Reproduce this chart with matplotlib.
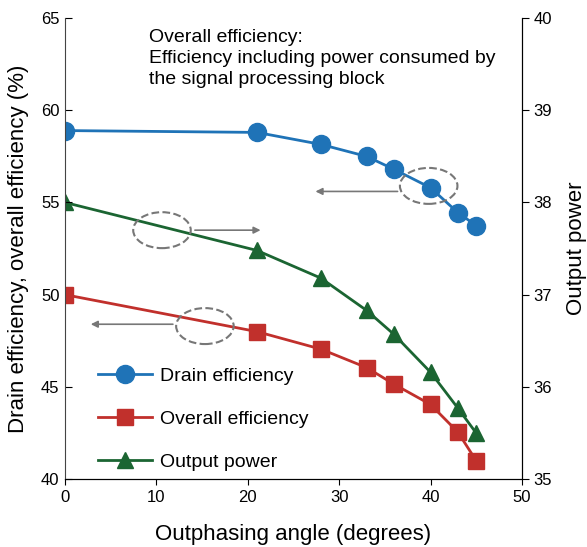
import matplotlib
matplotlib.use('Agg')
import matplotlib.pyplot as plt
from matplotlib.patches import Ellipse

plt.rcParams['font.family'] = ['Liberation Sans', 'DejaVu Sans']

# data
angle = [0, 21, 28, 33, 36, 40, 43, 45]
drain_eff = [58.9, 58.8, 58.15, 57.5, 56.8, 55.8, 54.45, 53.75]
overall_eff = [50.0, 48.0, 47.05, 46.05, 45.15, 44.05, 42.55, 41.0]
output_power = [38.0, 37.48, 37.18, 36.83, 36.57, 36.16, 35.77, 35.5]

blue = '#1f73b7'
red = '#c1302c'
green = '#1b6532'
grey = '#777777'

fig = plt.figure(figsize=(5.87, 5.47), dpi=100)
ax = fig.add_axes([0.111, 0.124, 0.778, 0.843])
ax2 = ax.twinx()

l1, = ax.plot(angle, drain_eff, '-o', color=blue, lw=2, ms=13, label='Drain efficiency')
l2, = ax.plot(angle, overall_eff, '-s', color=red, lw=2, ms=11, label='Overall efficiency')
l3, = ax2.plot(angle, output_power, '-^', color=green, lw=2, ms=12, label='Output power')

ax.set_xlim(0, 50)
ax.set_ylim(40, 65)
ax2.set_ylim(35, 40)
ax.set_xticks([0, 10, 20, 30, 40, 50])
ax.set_yticks([40, 45, 50, 55, 60, 65])
ax2.set_yticks([35, 36, 37, 38, 39, 40])

for a in (ax, ax2):
    a.spines['top'].set_visible(False)
ax.spines['left'].set_color('#444444')
ax2.spines['left'].set_visible(False)
ax.tick_params(axis='y', direction='in', labelsize=12, length=5, pad=4)
ax.tick_params(axis='x', direction='out', labelsize=12, length=4)
ax2.tick_params(axis='y', direction='out', labelsize=12, length=5)

ax.set_xlabel('Outphasing angle (degrees)', fontsize=16, labelpad=14)
ax.set_ylabel('Drain efficiency, overall efficiency (%)', fontsize=16, labelpad=9)
ax2.set_ylabel('Output power', fontsize=16, labelpad=10)

ax.text(9.2, 64.4, 'Overall efficiency:\nEfficiency including power consumed by\nthe signal processing block',
        fontsize=14, va='top', ha='left', linespacing=1.32)

# dashed ellipses with arrows pointing to the axis used
ellipses = [(39.8, 55.9), (10.6, 53.5), (15.3, 48.3)]
for cx, cy in ellipses:
    ax.add_patch(Ellipse((cx, cy), 6.3, 1.95, fill=False, ls='--', lw=1.5, ec=grey, zorder=4))
arrows = [((36.7, 55.6), (27.1, 55.6)), ((13.9, 53.5), (21.7, 53.5)), ((12.1, 48.4), (2.5, 48.4))]
for start, end in arrows:
    ax.annotate('', xy=end, xytext=start,
                arrowprops=dict(arrowstyle='-|>', color=grey, lw=1.2, mutation_scale=10), zorder=4)

ax.set_zorder(ax2.get_zorder() + 1)
ax.patch.set_visible(False)

ax.legend(handles=[l1, l2, l3], loc='lower left', bbox_to_anchor=(0.033, -0.02),
          frameon=False, fontsize=14, handlelength=2.8, labelspacing=1.3, handletextpad=0.4)

fig.savefig('out.png', dpi=100)
